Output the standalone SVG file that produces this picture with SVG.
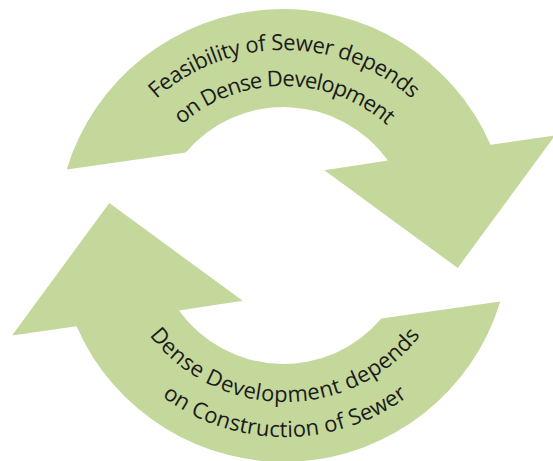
<svg xmlns="http://www.w3.org/2000/svg" xmlns:xlink="http://www.w3.org/1999/xlink" width="553" height="461" viewBox="0 0 553 461">
<style>
.arrow{fill:#c4d89c;stroke:none}
.lbl{font-family:"Open Sans","Noto Sans","Liberation Sans",sans-serif;font-size:22px;letter-spacing:-0.4px;fill:#1b1b1b}
</style>
<defs>
<path id="arrowShape" d="M 66.7 169.4 A 226.3 226.3 0 0 1 490.5 144.7 L 555 135.5 L 457.7 268 L 324.3 170.2 L 388 160.5 A 128.5 128.5 0 0 0 185.7 152.4 Z"/>
<path id="t1" d="M 93 241 A 191 191 0 0 1 475 241"/>
<path id="t2" d="M 129 241 A 155 155 0 0 1 439 241"/>
<path id="b1" d="M 114 231 A 171 171 0 0 0 456 231"/>
<path id="b2" d="M 79 231 A 206 206 0 0 0 491 231"/>
</defs>
<rect width="553" height="461" fill="#ffffff"/>
<g id="connectors"></g>
<g id="node-feasibility">
<use xlink:href="#arrowShape" class="arrow"/>
<text class="lbl" text-anchor="middle"><textPath xlink:href="#t1" startOffset="50%">Feasibility of Sewer depends</textPath></text>
<text class="lbl" text-anchor="middle" style="letter-spacing:-0.85px"><textPath xlink:href="#t2" startOffset="50%">on Dense Development</textPath></text>
</g>
<g id="node-dense">
<use xlink:href="#arrowShape" class="arrow" transform="rotate(180 283.5 235.5)"/>
<text class="lbl" text-anchor="middle" style="letter-spacing:0.4px"><textPath xlink:href="#b1" startOffset="50%">Dense Development depends</textPath></text>
<text class="lbl" text-anchor="middle" style="letter-spacing:0.15px"><textPath xlink:href="#b2" startOffset="50%">on Construction of Sewer</textPath></text>
</g>
</svg>
